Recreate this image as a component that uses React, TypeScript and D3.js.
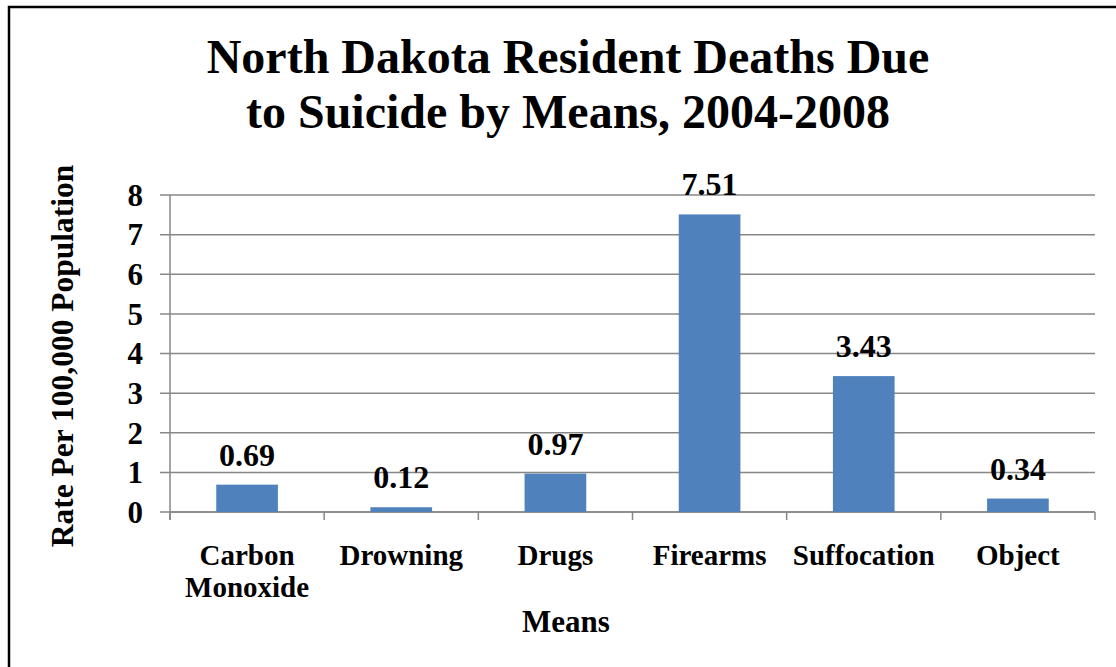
import React, { useEffect, useRef } from "react";
import * as d3 from "d3";

const categories = ["Carbon Monoxide", "Drowning", "Drugs", "Firearms", "Suffocation", "Object"];
const categoryLines = [["Carbon", "Monoxide"], ["Drowning"], ["Drugs"], ["Firearms"], ["Suffocation"], ["Object"]];
const rates = [0.69, 0.12, 0.97, 7.51, 3.43, 0.34];
const rateLabels = ["0.69", "0.12", "0.97", "7.51", "3.43", "0.34"];
const yTicks = [0, 1, 2, 3, 4, 5, 6, 7, 8];
const titleLines = ["North Dakota Resident Deaths Due", "to Suicide by Means, 2004-2008"];

const W = 1116;
const H = 667;
const FONT = "'Liberation Serif', 'Times New Roman', serif";

export default function App() {
  const svgRef = useRef<SVGSVGElement>(null);

  useEffect(() => {
    if (!svgRef.current) return;
    const svg = d3.select(svgRef.current);
    svg.selectAll("*").remove();

    const plot = { left: 170, right: 1095, top: 195, bottom: 512 };

    const x = d3
      .scaleBand<string>()
      .domain(categories)
      .range([plot.left, plot.right])
      .paddingInner(0.6)
      .paddingOuter(0.3);

    const y = d3.scaleLinear().domain([0, 8]).range([plot.bottom, plot.top]);

    // outer frame (runs off the right/bottom edge)
    svg
      .append("rect")
      .attr("x", 9)
      .attr("y", 7)
      .attr("width", W + 20)
      .attr("height", H + 20)
      .attr("fill", "none")
      .attr("stroke", "#000")
      .attr("stroke-width", 2.5);

    // title
    const title = svg
      .append("text")
      .attr("text-anchor", "middle")
      .attr("font-family", FONT)
      .attr("font-weight", "bold")
      .attr("font-size", 48)
      .attr("fill", "#000");
    titleLines.forEach((t, i) => {
      title.append("tspan").attr("x", 568).attr("y", 73 + i * 55).text(t);
    });

    // gridlines + y ticks
    const g = svg.append("g");
    g.selectAll(".grid")
      .data(yTicks)
      .join("line")
      .attr("x1", plot.left - 10)
      .attr("x2", plot.right)
      .attr("y1", (d) => y(d))
      .attr("y2", (d) => y(d))
      .attr("stroke", "#878787")
      .attr("stroke-width", 1.5);

    g.selectAll(".ylab")
      .data(yTicks)
      .join("text")
      .attr("x", 143)
      .attr("y", (d) => y(d))
      .attr("dy", "0.35em")
      .attr("text-anchor", "end")
      .attr("font-family", FONT)
      .attr("font-weight", "bold")
      .attr("font-size", 31)
      .text((d) => String(d));

    // y axis line
    g.append("line")
      .attr("x1", plot.left)
      .attr("x2", plot.left)
      .attr("y1", plot.top)
      .attr("y2", plot.bottom + 8)
      .attr("stroke", "#878787")
      .attr("stroke-width", 1.5);

    // x axis line & category ticks
    g.append("line")
      .attr("x1", plot.left)
      .attr("x2", plot.right)
      .attr("y1", plot.bottom)
      .attr("y2", plot.bottom)
      .attr("stroke", "#878787")
      .attr("stroke-width", 1.5);

    const step = x.step();
    const boundaries = d3.range(categories.length + 1).map((i) => plot.left + i * step);
    g.selectAll(".xtick")
      .data(boundaries)
      .join("line")
      .attr("x1", (d) => d)
      .attr("x2", (d) => d)
      .attr("y1", plot.bottom)
      .attr("y2", plot.bottom + 8)
      .attr("stroke", "#878787")
      .attr("stroke-width", 1.5);

    // bars
    g.selectAll(".bar")
      .data(rates)
      .join("rect")
      .attr("x", (_d, i) => x(categories[i]) || 0)
      .attr("y", (d) => y(d))
      .attr("width", x.bandwidth())
      .attr("height", (d) => plot.bottom - y(d))
      .attr("fill", "#4F81BD");

    // value labels
    g.selectAll(".val")
      .data(rates)
      .join("text")
      .attr("x", (_d, i) => (x(categories[i]) || 0) + x.bandwidth() / 2)
      .attr("y", (d) => y(d) - 19)
      .attr("text-anchor", "middle")
      .attr("font-family", FONT)
      .attr("font-weight", "bold")
      .attr("font-size", 32)
      .text((_d, i) => rateLabels[i]);

    // category labels
    categoryLines.forEach((lines, i) => {
      const t = g
        .append("text")
        .attr("text-anchor", "middle")
        .attr("font-family", FONT)
        .attr("font-weight", "bold")
        .attr("font-size", 29);
      lines.forEach((ln, j) => {
        t.append("tspan")
          .attr("x", (x(categories[i]) || 0) + x.bandwidth() / 2)
          .attr("y", 565 + j * 32)
          .text(ln);
      });
    });

    // axis titles
    svg
      .append("text")
      .attr("x", 566)
      .attr("y", 632)
      .attr("text-anchor", "middle")
      .attr("font-family", FONT)
      .attr("font-weight", "bold")
      .attr("font-size", 31)
      .text("Means");

    svg
      .append("text")
      .attr("transform", "translate(73,356) rotate(-90)")
      .attr("text-anchor", "middle")
      .attr("font-family", FONT)
      .attr("font-weight", "bold")
      .attr("font-size", 31.5)
      .text("Rate Per 100,000 Population");
  }, []);

  return (
    <svg
      ref={svgRef}
      width={W}
      height={H}
      viewBox={`0 0 ${W} ${H}`}
      style={{ position: "absolute", left: 0, top: 0, background: "#fff" }}
    />
  );
}
